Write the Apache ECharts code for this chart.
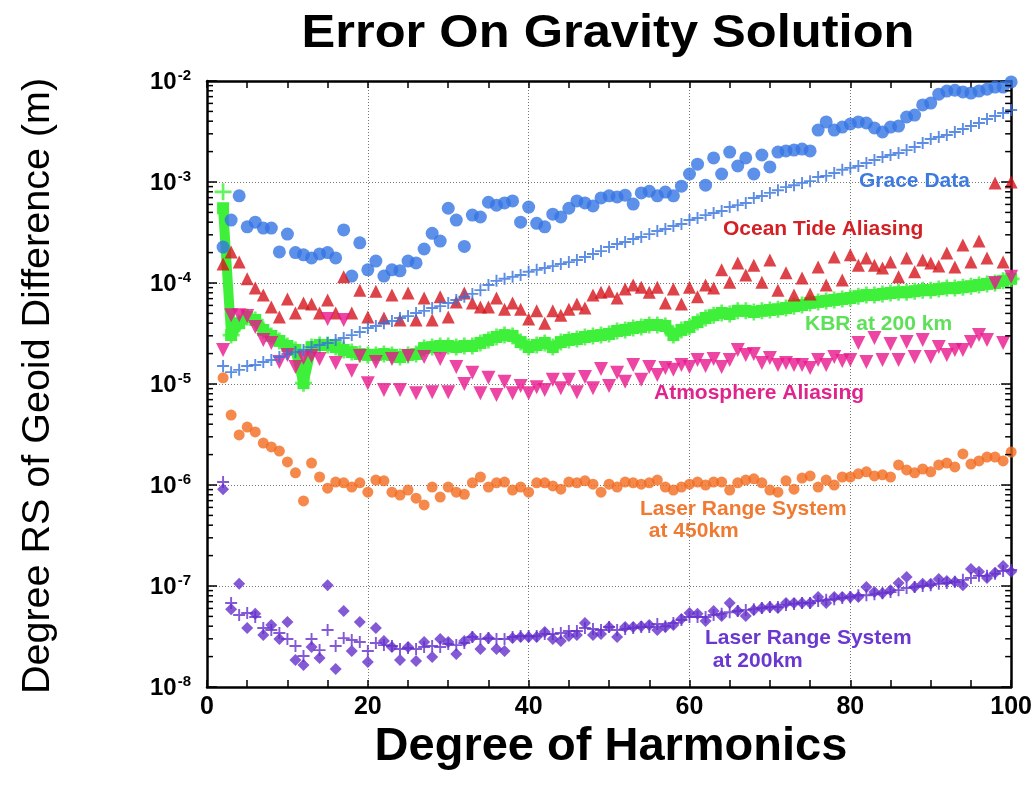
<!DOCTYPE html>
<html><head><meta charset="utf-8">
<script src="https://cdn.jsdelivr.net/npm/echarts@6/dist/echarts.min.js"></script>
<style>html,body{margin:0;padding:0;background:#fff}#c{width:1035px;height:801px}</style>
</head><body><div id="c"></div>
<script>
// Spherical harmonic degrees 2..100
const degrees = [];
for (let d = 2; d <= 100; d++) degrees.push(d);

const xTickLabels = [0, 20, 40, 60, 80, 100];
const yDecades = [1e-8, 1e-7, 1e-6, 1e-5, 1e-4, 1e-3, 1e-2];

// Grace Data (blue circles)
const graceData = [
  2.27e-4, 4.2e-4, 7.3e-4, 3.6e-4, 4.0e-4, 3.5e-4, 3.5e-4, 2.03e-4, 3.05e-4, 2.0e-4,
  1.9e-4, 1.77e-4, 1.94e-4, 2.0e-4, 1.77e-4, 3.35e-4, 1.17e-4, 2.5e-4, 1.35e-4, 1.65e-4,
  1.17e-4, 1.35e-4, 1.32e-4, 1.65e-4, 1.58e-4, 2.17e-4, 3.1e-4, 2.6e-4, 5.5e-4, 4.2e-4,
  2.3e-4, 4.7e-4, 4.5e-4, 6.3e-4, 5.9e-4, 6.2e-4, 6.5e-4, 4.0e-4, 5.65e-4, 3.9e-4,
  3.6e-4, 4.8e-4, 4.5e-4, 5.5e-4, 6.5e-4, 6.2e-4, 5.8e-4, 6.95e-4, 7.3e-4, 7.1e-4,
  7.4e-4, 6.05e-4, 7.8e-4, 8.1e-4, 7.3e-4, 7.95e-4, 7.3e-4, 9.1e-4, 1.2e-3, 1.5e-3,
  9.3e-4, 1.73e-3, 1.2e-3, 1.98e-3, 1.44e-3, 1.73e-3, 1.2e-3, 1.85e-3, 1.41e-3, 1.98e-3,
  2.03e-3, 2.07e-3, 2.12e-3, 2.03e-3, 3.27e-3, 3.93e-3, 3.27e-3, 3.5e-3, 3.75e-3, 3.93e-3,
  3.84e-3, 3.43e-3, 3.13e-3, 3.5e-3, 3.58e-3, 4.4e-3, 4.6e-3, 5.8e-3, 6.05e-3, 7.4e-3,
  7.95e-3, 8.1e-3, 7.8e-3, 7.6e-3, 7.95e-3, 8.3e-3, 8.7e-3, 8.7e-3, 9.8e-3
];

// Grace curve (blue plus)
const graceCurve = [
  1.51e-5, 1.31e-5, 1.38e-5, 1.51e-5, 1.54e-5, 1.65e-5, 1.73e-5, 1.85e-5, 1.98e-5, 2.07e-5,
  2.17e-5, 2.32e-5, 2.43e-5, 2.55e-5, 2.73e-5, 2.85e-5, 3.05e-5, 3.27e-5, 3.58e-5, 3.75e-5,
  4.0e-5, 4.2e-5, 4.5e-5, 4.7e-5, 5.05e-5, 5.3e-5, 5.65e-5, 5.9e-5, 6.35e-5, 6.8e-5,
  7.3e-5, 7.8e-5, 8.5e-5, 9.55e-5, 1.05e-4, 1.1e-4, 1.15e-4, 1.2e-4, 1.29e-4, 1.35e-4,
  1.41e-4, 1.47e-4, 1.54e-4, 1.61e-4, 1.69e-4, 1.81e-4, 1.94e-4, 2.07e-4, 2.27e-4, 2.43e-4,
  2.55e-4, 2.73e-4, 2.85e-4, 3.05e-4, 3.27e-4, 3.43e-4, 3.67e-4, 3.84e-4, 4.2e-4, 4.4e-4,
  4.7e-4, 4.93e-4, 5.16e-4, 5.65e-4, 5.9e-4, 6.2e-4, 6.95e-4, 7.26e-4, 7.8e-4, 8.3e-4,
  8.9e-4, 9.3e-4, 9.8e-4, 1.02e-3, 1.12e-3, 1.15e-3, 1.23e-3, 1.32e-3, 1.38e-3, 1.44e-3,
  1.54e-3, 1.65e-3, 1.77e-3, 1.85e-3, 1.94e-3, 2.07e-3, 2.22e-3, 2.43e-3, 2.67e-3, 2.79e-3,
  2.92e-3, 3.13e-3, 3.35e-3, 3.58e-3, 3.84e-3, 4.2e-3, 4.5e-3, 4.82e-3, 5.16e-3
];

// Ocean Tide Aliasing (red triangles)
const oceanTide = [
  1.54e-4, 2.03e-4, 1.61e-4, 1.1e-4, 8.9e-5, 7.6e-5, 5.8e-5, 4.6e-5, 6.95e-5, 5.05e-5,
  6.35e-5, 6.2e-5, 5.05e-5, 6.8e-5, 5.05e-5, 1.15e-4, 5.05e-5, 8.5e-5, 4.6e-5, 8.3e-5,
  4.5e-5, 7.6e-5, 4.3e-5, 7.96e-5, 4.3e-5, 7.1e-5, 4.3e-5, 7.3e-5, 4.6e-5, 6.5e-5,
  7.96e-5, 6.35e-5, 5.8e-5, 5.8e-5, 7.1e-5, 5.5e-5, 6.35e-5, 5.5e-5, 4.4e-5, 5.3e-5,
  4.0e-5, 5.3e-5, 4.8e-5, 5.5e-5, 6.2e-5, 5.65e-5, 7.6e-5, 8.1e-5, 8.3e-5, 7.1e-5,
  8.7e-5, 9.55e-5, 9.1e-5, 8.1e-5, 9.1e-5, 6.35e-5, 8.7e-5, 6.2e-5, 9.1e-5, 7.3e-5,
  9.55e-5, 8.9e-5, 1.35e-4, 1.02e-4, 1.58e-4, 1.2e-4, 1.5e-4, 1.02e-4, 1.69e-4, 8.5e-5,
  1.26e-4, 7.6e-5, 1.12e-4, 7.8e-5, 1.44e-4, 9.55e-5, 1.81e-4, 1.07e-4, 1.9e-4, 1.5e-4,
  1.77e-4, 1.5e-4, 1.41e-4, 1.61e-4, 1.15e-4, 1.77e-4, 1.29e-4, 1.69e-4, 1.58e-4, 1.47e-4,
  1.98e-4, 1.44e-4, 2.38e-4, 1.61e-4, 2.6e-4, 1.77e-4, 9.8e-4, 1.61e-4, 1.0e-3
];

// KBR at 200 km (green band)
const kbr = [
  5.5e-4, 3.05e-5, 4.0e-5, 4.6e-5, 4.3e-5, 3.43e-5, 2.99e-5, 2.67e-5, 2.38e-5, 2.17e-5,
  1.02e-5, 2.32e-5, 2.43e-5, 2.43e-5, 2.32e-5, 2.17e-5, 2.07e-5, 1.98e-5, 1.94e-5, 1.94e-5,
  1.98e-5, 1.94e-5, 1.85e-5, 1.94e-5, 1.98e-5, 2.27e-5, 2.32e-5, 2.38e-5, 2.38e-5, 2.32e-5,
  2.38e-5, 2.38e-5, 2.55e-5, 2.73e-5, 2.92e-5, 3.05e-5, 2.99e-5, 2.6e-5, 2.32e-5, 2.43e-5,
  2.55e-5, 2.32e-5, 2.6e-5, 2.73e-5, 2.79e-5, 2.92e-5, 2.99e-5, 3.05e-5, 3.13e-5, 3.35e-5,
  3.43e-5, 3.58e-5, 3.67e-5, 3.84e-5, 3.84e-5, 3.75e-5, 3.05e-5, 3.43e-5, 3.67e-5, 4.1e-5,
  4.5e-5, 4.8e-5, 5.05e-5, 4.93e-5, 5.3e-5, 5.3e-5, 5.16e-5, 5.3e-5, 5.4e-5, 5.5e-5,
  5.65e-5, 5.9e-5, 6.05e-5, 6.35e-5, 6.5e-5, 6.65e-5, 6.8e-5, 6.95e-5, 7.1e-5, 7.4e-5,
  7.6e-5, 7.6e-5, 7.8e-5, 7.96e-5, 8.1e-5, 8.1e-5, 8.3e-5, 8.5e-5, 8.5e-5, 8.7e-5,
  8.9e-5, 8.9e-5, 9.1e-5, 9.3e-5, 9.55e-5, 9.8e-5, 1.0e-4, 1.05e-4, 1.1e-4
];
const kbrPlusDeg2 = 8.0e-4;

// Atmosphere Aliasing (magenta inverted triangles)
const atmosphere = [
  2.17e-5, 4.8e-5, 4.8e-5, 4.7e-5, 3.67e-5, 2.73e-5, 2.55e-5, 1.65e-5, 1.94e-5, 1.47e-5,
  1.81e-5, 1.89e-5, 1.77e-5, 4.4e-5, 1.61e-5, 4.3e-5, 1.35e-5, 1.89e-5, 1.02e-5, 1.65e-5,
  8.7e-6, 1.77e-5, 8.7e-6, 1.89e-5, 8.1e-6, 1.85e-5, 8.3e-6, 1.77e-5, 8.3e-6, 1.47e-5,
  1.0e-5, 1.29e-5, 8.1e-6, 1.15e-5, 7.8e-6, 1.05e-5, 8.1e-6, 9.55e-6, 8.1e-6, 9.3e-6,
  8.7e-6, 1.1e-5, 9.1e-6, 1.1e-5, 8.3e-6, 1.17e-5, 9.1e-6, 1.41e-5, 9.55e-6, 1.29e-5,
  1.05e-5, 1.54e-5, 1.1e-5, 1.47e-5, 1.23e-5, 1.44e-5, 1.38e-5, 1.54e-5, 1.47e-5, 1.73e-5,
  1.51e-5, 1.77e-5, 1.47e-5, 1.73e-5, 2.17e-5, 1.94e-5, 1.98e-5, 1.61e-5, 1.81e-5, 1.54e-5,
  1.61e-5, 1.54e-5, 1.54e-5, 1.44e-5, 1.73e-5, 1.54e-5, 1.85e-5, 1.69e-5, 1.73e-5, 2.55e-5,
  1.65e-5, 2.85e-5, 1.73e-5, 2.49e-5, 1.73e-5, 2.6e-5, 1.85e-5, 2.73e-5, 1.85e-5, 2.32e-5,
  1.94e-5, 2.17e-5, 2.17e-5, 2.6e-5, 3.05e-5, 2.73e-5, 1.0e-4, 2.55e-5, 1.15e-4
];

// Laser Range System at 450km (orange circles)
const laser450 = [
  1.15e-5, 4.93e-6, 3.13e-6, 3.75e-6, 3.35e-6, 2.6e-6, 2.38e-6, 2.17e-6, 1.69e-6, 1.32e-6,
  6.95e-7, 1.65e-6, 1.2e-6, 9.3e-7, 1.07e-6, 1.05e-6, 9.55e-7, 1.05e-6, 8.5e-7, 1.12e-6,
  1.1e-6, 8.5e-7, 7.96e-7, 8.9e-7, 7.4e-7, 6.35e-7, 9.55e-7, 7.6e-7, 9.55e-7, 8.5e-7,
  8.1e-7, 1.05e-6, 1.2e-6, 9.55e-7, 1.05e-6, 1.07e-6, 8.9e-7, 9.55e-7, 8.5e-7, 1.05e-6,
  1.05e-6, 9.8e-7, 9.1e-7, 1.07e-6, 1.05e-6, 1.1e-6, 1.02e-6, 8.5e-7, 1.02e-6, 9.55e-7,
  1.07e-6, 1.05e-6, 1.02e-6, 1.05e-6, 1.12e-6, 9.55e-7, 8.9e-7, 9.55e-7, 1.02e-6, 1.07e-6,
  1.0e-6, 1.07e-6, 1.07e-6, 8.9e-7, 1.05e-6, 1.12e-6, 1.15e-6, 1.05e-6, 8.9e-7, 8.5e-7,
  1.1e-6, 9.1e-7, 1.17e-6, 1.23e-6, 9.55e-7, 1.12e-6, 1.0e-6, 1.2e-6, 1.2e-6, 1.29e-6,
  1.35e-6, 1.23e-6, 1.26e-6, 1.2e-6, 1.58e-6, 1.41e-6, 1.32e-6, 1.44e-6, 1.35e-6, 1.58e-6,
  1.65e-6, 1.51e-6, 2.03e-6, 1.61e-6, 1.73e-6, 1.89e-6, 1.89e-6, 1.73e-6, 2.12e-6
];

// Laser Range System at 200km (purple diamonds)
const laser200 = [
  9.1e-7, 5.9e-8, 1.05e-7, 3.84e-8, 5.3e-8, 3.27e-8, 4.1e-8, 2.99e-8, 4.4e-8, 1.85e-8,
  1.65e-8, 2.49e-8, 1.94e-8, 1.02e-7, 1.51e-8, 5.65e-8, 2.27e-8, 4.4e-8, 1.77e-8, 3.84e-8,
  2.85e-8, 2.49e-8, 1.85e-8, 2.49e-8, 1.81e-8, 2.79e-8, 1.98e-8, 2.99e-8, 2.79e-8, 2.12e-8,
  2.85e-8, 3.13e-8, 2.38e-8, 3.05e-8, 2.38e-8, 2.27e-8, 3.05e-8, 3.13e-8, 3.13e-8, 3.13e-8,
  3.5e-8, 2.99e-8, 2.85e-8, 3.2e-8, 3.27e-8, 4.3e-8, 3.27e-8, 3.35e-8, 3.93e-8, 3.13e-8,
  3.93e-8, 3.93e-8, 4.0e-8, 4.1e-8, 3.67e-8, 3.93e-8, 4.1e-8, 4.7e-8, 5.4e-8, 5.3e-8,
  4.5e-8, 5.65e-8, 5.05e-8, 6.8e-8, 5.65e-8, 5.05e-8, 5.8e-8, 6.05e-8, 6.2e-8, 6.05e-8,
  6.8e-8, 6.8e-8, 6.8e-8, 6.8e-8, 7.8e-8, 6.8e-8, 7.8e-8, 7.8e-8, 7.8e-8, 7.8e-8,
  9.8e-8, 8.7e-8, 8.5e-8, 9.1e-8, 1.07e-7, 1.23e-7, 9.8e-8, 1.05e-7, 1.05e-7, 1.17e-7,
  1.12e-7, 1.1e-7, 1.02e-7, 1.47e-7, 1.38e-7, 1.2e-7, 1.35e-7, 1.58e-7, 1.38e-7
];

// Laser Range System at 200km (purple plus)
const laser200Plus = [
  1.07e-6, 6.8e-8, 5.16e-8, 5.4e-8, 4.93e-8, 3.84e-8, 3.67e-8, 3.43e-8, 2.99e-8, 2.55e-8,
  2.03e-8, 2.99e-8, 2.32e-8, 3.67e-8, 2.55e-8, 3.05e-8, 2.92e-8, 2.79e-8, 2.27e-8, 2.73e-8,
  2.6e-8, 2.55e-8, 2.38e-8, 2.43e-8, 2.38e-8, 2.49e-8, 2.55e-8, 2.49e-8, 2.67e-8, 2.6e-8,
  2.73e-8, 3.13e-8, 2.99e-8, 3.05e-8, 2.99e-8, 2.99e-8, 3.13e-8, 3.2e-8, 3.2e-8, 3.2e-8,
  3.35e-8, 3.35e-8, 3.43e-8, 3.58e-8, 3.58e-8, 3.84e-8, 3.75e-8, 3.67e-8, 3.93e-8, 3.67e-8,
  3.75e-8, 3.84e-8, 3.93e-8, 3.93e-8, 4.2e-8, 4.0e-8, 4.3e-8, 4.6e-8, 4.93e-8, 4.93e-8,
  4.93e-8, 5.16e-8, 5.3e-8, 5.5e-8, 5.65e-8, 5.8e-8, 5.9e-8, 6.05e-8, 6.2e-8, 6.2e-8,
  6.5e-8, 6.65e-8, 6.8e-8, 6.8e-8, 7.1e-8, 7.3e-8, 7.4e-8, 7.6e-8, 7.8e-8, 8.1e-8,
  8.1e-8, 8.3e-8, 8.5e-8, 8.7e-8, 9.1e-8, 9.55e-8, 9.8e-8, 1.0e-7, 1.02e-7, 1.05e-7,
  1.07e-7, 1.1e-7, 1.15e-7, 1.2e-7, 1.26e-7, 1.26e-7, 1.32e-7, 1.41e-7, 1.44e-7
];

function pts(arr) { return arr.map((v, i) => [degrees[i], v]); }

// minor log ticks 2..9 x 10^k
const minorTickVals = [];
for (let k = -8; k <= -3; k++) for (let m = 2; m <= 9; m++) minorTickVals.push([50, m * Math.pow(10, k)]);

const FONT = '"Liberation Sans", Arial, Helvetica, sans-serif';
const NARROW = '"Liberation Sans Narrow", "Liberation Sans", Arial, sans-serif';
const PLUS = 'path://M0,42h100v16H0zM42,0h16v100H42z';

const C_BLUE = '#3474e4', C_RED = '#d4141c', C_GREEN = '#3ff03a', C_MAG = '#e8168c',
      C_ORANGE = '#f26a1e', C_PURPLE = '#6430cc';

const chart = echarts.init(document.getElementById('c'), null, { renderer: 'canvas' });

const GRID = { left: 207, top: 81, width: 805, height: 606 };

const xCommon = {
  type: 'value', min: 0, max: 100, interval: 20,
  axisLine: { show: true, onZero: false, lineStyle: { color: '#000', width: 2.5 } },
  axisTick: { show: true, inside: true, length: 7, lineStyle: { color: '#000', width: 1.5 } },
  minorTick: { show: true, splitNumber: 4, length: 7, lineStyle: { color: '#000', width: 1.5 } },
};
const yCommon = {
  type: 'log', logBase: 10, min: 1e-8, max: 1e-2,
  axisLine: { show: true, onZero: false, lineStyle: { color: '#000', width: 2.5 } },
  axisTick: { show: true, inside: true, length: 10, lineStyle: { color: '#000', width: 1.5 } },
};

const option = {
  animation: false,
  backgroundColor: '#fff',
  grid: GRID,
  xAxis: [
    Object.assign({}, xCommon, {
      position: 'bottom',
      axisLabel: { show: true, margin: 8, color: '#000', fontFamily: NARROW, fontWeight: 'bold', fontSize: 25 },
      splitLine: { show: true, lineStyle: { color: '#777', width: 1, type: [1, 2] } }
    }),
    Object.assign({}, xCommon, {
      position: 'top',
      axisLabel: { show: false }, splitLine: { show: false }
    })
  ],
  yAxis: [
    Object.assign({}, yCommon, {
      position: 'left',
      axisLabel: {
        show: true, margin: 16, color: '#000',
        formatter: function (v) {
          const e = Math.round(Math.log10(v));
          return '{b|10}{s|' + e + '}';
        },
        rich: {
          b: { fontFamily: FONT, fontWeight: 'bold', fontSize: 24, color: '#000', lineHeight: 26, verticalAlign: 'bottom' },
          s: { fontFamily: FONT, fontWeight: 'bold', fontSize: 15, color: '#000', lineHeight: 26, verticalAlign: 'top', padding: [0, 0, 12, 1] }
        }
      },
      splitLine: { show: true, lineStyle: { color: '#777', width: 1, type: [1, 2] } }
    }),
    Object.assign({}, yCommon, {
      position: 'right',
      axisLabel: { show: false }, splitLine: { show: false }
    })
  ],
  series: [
    {
      name: 'minor ticks', type: 'custom', xAxisIndex: 0, yAxisIndex: 0, silent: true, clip: false, z: 5,
      data: minorTickVals,
      renderItem: function (params, api) {
        const pL = api.coord([0, api.value(1)]);
        const pR = api.coord([100, api.value(1)]);
        return {
          type: 'group', children: [
            { type: 'line', shape: { x1: pL[0], y1: pL[1], x2: pL[0] + 6, y2: pL[1] }, style: { stroke: '#000', lineWidth: 1.5 } },
            { type: 'line', shape: { x1: pR[0], y1: pR[1], x2: pR[0] - 6, y2: pR[1] }, style: { stroke: '#000', lineWidth: 1.5 } }
          ]
        };
      }
    },
    {
      name: 'KBR at 200 km', type: 'line', data: pts(kbr), z: 2,
      symbol: 'rect', symbolSize: 12, showSymbol: true,
      lineStyle: { color: C_GREEN, width: 10 }, itemStyle: { color: C_GREEN }
    },
    {
      name: 'KBR plus', type: 'scatter', z: 2,
      data: [[degrees[0], kbrPlusDeg2]].concat(pts(kbr).slice(1)),
      symbol: PLUS, symbolSize: 17, itemStyle: { color: C_GREEN }
    },
    {
      name: 'Grace Data', type: 'scatter', data: pts(graceData), z: 3,
      symbol: 'circle', symbolSize: 13, itemStyle: { color: C_BLUE }
    },
    {
      name: 'Grace curve', type: 'scatter', data: pts(graceCurve), z: 4,
      symbol: PLUS, symbolSize: 12, itemStyle: { color: '#3572dc' }
    },
    {
      name: 'Ocean Tide Aliasing', type: 'scatter', data: pts(oceanTide), z: 3,
      symbol: 'triangle', symbolSize: 13, itemStyle: { color: C_RED }
    },
    {
      name: 'Atmosphere Aliasing', type: 'scatter', data: pts(atmosphere), z: 3,
      symbol: 'triangle', symbolRotate: 180, symbolSize: 14, itemStyle: { color: C_MAG }
    },
    {
      name: 'Laser Range System at 450km', type: 'scatter', data: pts(laser450), z: 3,
      symbol: 'circle', symbolSize: 11, itemStyle: { color: C_ORANGE }
    },
    {
      name: 'Laser Range System at 200km +', type: 'scatter', data: pts(laser200Plus), z: 3,
      symbol: PLUS, symbolSize: 12, itemStyle: { color: C_PURPLE }
    },
    {
      name: 'Laser Range System at 200km', type: 'scatter', data: pts(laser200), z: 3,
      symbol: 'diamond', symbolSize: 12, itemStyle: { color: C_PURPLE }
    }
  ],
  graphic: [
    { type: 'text', x: 608, y: 34, z: 10, scaleX: 1.1,
      style: { text: 'Error On Gravity Solution', font: 'bold 46px ' + FONT, fill: '#000', textAlign: 'center', textVerticalAlign: 'middle' } },
    { type: 'text', x: 611, y: 747, z: 10,
      style: { text: 'Degree of Harmonics', font: 'bold 47px ' + FONT, fill: '#000', textAlign: 'center', textVerticalAlign: 'middle' } },
    { type: 'text', x: 38, y: 386, z: 10, rotation: Math.PI / 2,
      style: { text: 'Degree RS of Geoid Difference (m)', font: '39.5px ' + FONT, fill: '#000', textAlign: 'center', textVerticalAlign: 'middle' } },
    { type: 'text', x: 859, y: 181, z: 10,
      style: { text: 'Grace Data', font: 'bold 21px ' + FONT, fill: '#3d7ae0', textAlign: 'left', textVerticalAlign: 'middle' } },
    { type: 'text', x: 723, y: 229, z: 10,
      style: { text: 'Ocean Tide Aliasing', font: 'bold 21px ' + FONT, fill: '#d42024', textAlign: 'left', textVerticalAlign: 'middle' } },
    { type: 'text', x: 805, y: 324, z: 10,
      style: { text: 'KBR at 200 km', font: 'bold 21px ' + FONT, fill: '#5ee05a', textAlign: 'left', textVerticalAlign: 'middle' } },
    { type: 'text', x: 654, y: 393, z: 10,
      style: { text: 'Atmosphere Aliasing', font: 'bold 21px ' + FONT, fill: '#e0248c', textAlign: 'left', textVerticalAlign: 'middle' } },
    { type: 'text', x: 640, y: 509, z: 10,
      style: { text: 'Laser Range System', font: 'bold 21px ' + FONT, fill: '#f07a32', textAlign: 'left', textVerticalAlign: 'middle' } },
    { type: 'text', x: 643, y: 531, z: 10,
      style: { text: ' at 450km', font: 'bold 21px ' + FONT, fill: '#f07a32', textAlign: 'left', textVerticalAlign: 'middle' } },
    { type: 'text', x: 705, y: 638, z: 10,
      style: { text: 'Laser Range System', font: 'bold 21px ' + FONT, fill: '#6a38d0', textAlign: 'left', textVerticalAlign: 'middle' } },
    { type: 'text', x: 707, y: 661, z: 10,
      style: { text: ' at 200km', font: 'bold 21px ' + FONT, fill: '#6a38d0', textAlign: 'left', textVerticalAlign: 'middle' } }
  ]
};
chart.setOption(option);
</script>
</body></html>
